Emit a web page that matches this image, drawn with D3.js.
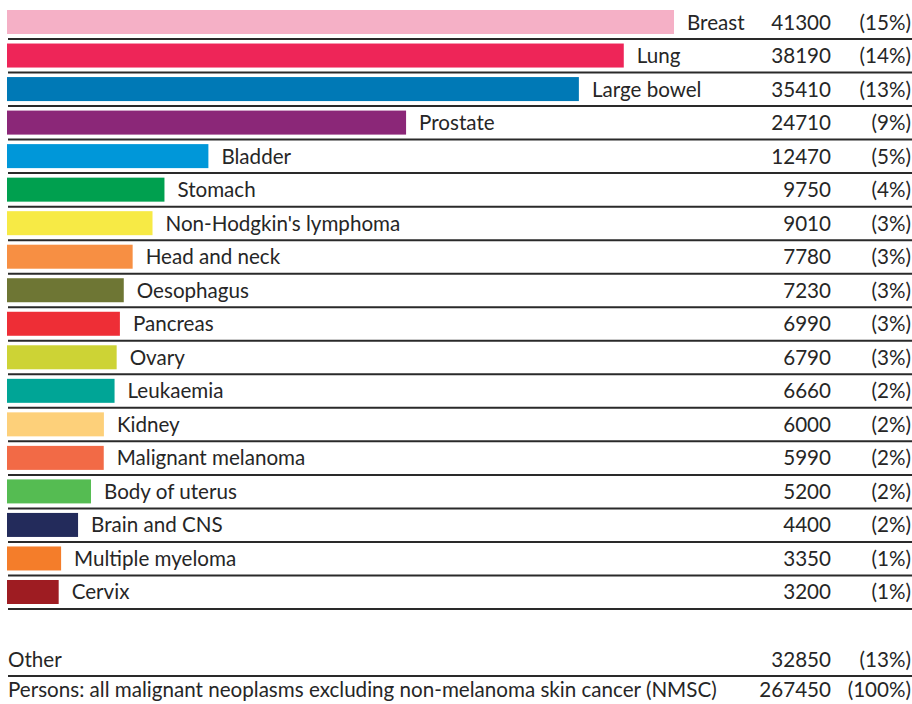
<!DOCTYPE html>
<html>
<head>
<meta charset="utf-8">
<script src="https://cdn.jsdelivr.net/npm/d3@7"></script>
<style>
  body { margin: 0; background: #fff; }
  svg text { font-family: "Lato", sans-serif; font-weight: 400; fill: #262626; }
</style>
</head>
<body>
<svg id="svg" width="912" height="704"></svg>
<script>
const sites = ["Breast", "Lung", "Large bowel", "Prostate", "Bladder", "Stomach",
  "Non-Hodgkin's lymphoma", "Head and neck", "Oesophagus", "Pancreas", "Ovary",
  "Leukaemia", "Kidney", "Malignant melanoma", "Body of uterus", "Brain and CNS",
  "Multiple myeloma", "Cervix"];
const cases = [41300, 38190, 35410, 24710, 12470, 9750, 9010, 7780, 7230, 6990,
  6790, 6660, 6000, 5990, 5200, 4400, 3350, 3200];
const shares = ["(15%)", "(14%)", "(13%)", "(9%)", "(5%)", "(4%)", "(3%)", "(3%)",
  "(3%)", "(3%)", "(3%)", "(2%)", "(2%)", "(2%)", "(2%)", "(2%)", "(1%)", "(1%)"];
const colors = ["#f5b0c6", "#ee2558", "#0079b6", "#8b2778", "#0097d9", "#00a04f",
  "#f7ea45", "#f78f43", "#6e7634", "#ee2e36", "#cdd335", "#00a596", "#fdd07a",
  "#f26a46", "#55bc52", "#232b5b", "#f47d2a", "#9e1c22"];
const otherRow = ["Other", 32850, "(13%)"];
const totalRow = ["Persons: all malignant neoplasms excluding non-melanoma skin cancer (NMSC)", 267450, "(100%)"];

const svg = d3.select('#svg');
const fontSize = 20.6;

const rows = sites.map((s, i) => ({ site: s, n: cases[i], pct: shares[i], color: colors[i] }));

const x = d3.scaleLinear().domain([0, d3.max(cases)]).range([7, 674]);
const y = d3.scaleBand().domain(sites).range([10, 604]).paddingInner(0.284).paddingOuter(0);

const valueRight = 831, pctRight = 911;

const g = svg.selectAll("g.row").data(rows).enter().append("g").attr("class", "row");

g.append("rect")
  .attr("x", x(0))
  .attr("y", d => y(d.site))
  .attr("width", d => x(d.n) - x(0))
  .attr("height", y.bandwidth())
  .attr("fill", d => d.color);

g.append("text")
  .attr("x", d => x(d.n) + 13)
  .attr("y", d => y(d.site) + 19.5)
  .style("font-size", fontSize + "px")
  .text(d => d.site);

g.append("text")
  .attr("x", valueRight)
  .attr("y", d => y(d.site) + 19.5)
  .attr("text-anchor", "end")
  .style("font-size", fontSize + "px")
  .text(d => d.n);

g.append("text")
  .attr("x", pctRight)
  .attr("y", d => y(d.site) + 19.5)
  .attr("text-anchor", "end")
  .style("font-size", fontSize + "px")
  .text(d => d.pct);

g.append("line")
  .attr("x1", 8).attr("x2", 912)
  .attr("y1", d => y(d.site) + 29).attr("y2", d => y(d.site) + 29)
  .attr("stroke", "#2a2a2a").attr("stroke-width", 2);

// other and total rows
const extra = [{ r: otherRow, base: 667 }, { r: totalRow, base: 697 }];
const e = svg.selectAll("g.extra").data(extra).enter().append("g").attr("class", "extra");
e.append("text").attr("x", 8).attr("y", d => d.base).style("font-size", fontSize + "px").text(d => d.r[0]);
e.append("text").attr("x", valueRight).attr("y", d => d.base).attr("text-anchor", "end").style("font-size", fontSize + "px").text(d => d.r[1]);
e.append("text").attr("x", pctRight).attr("y", d => d.base).attr("text-anchor", "end").style("font-size", fontSize + "px").text(d => d.r[2]);

svg.append("line")
  .attr("x1", 8).attr("x2", 912).attr("y1", 676).attr("y2", 676)
  .attr("stroke", "#2a2a2a").attr("stroke-width", 2);
</script>
</body>
</html>
